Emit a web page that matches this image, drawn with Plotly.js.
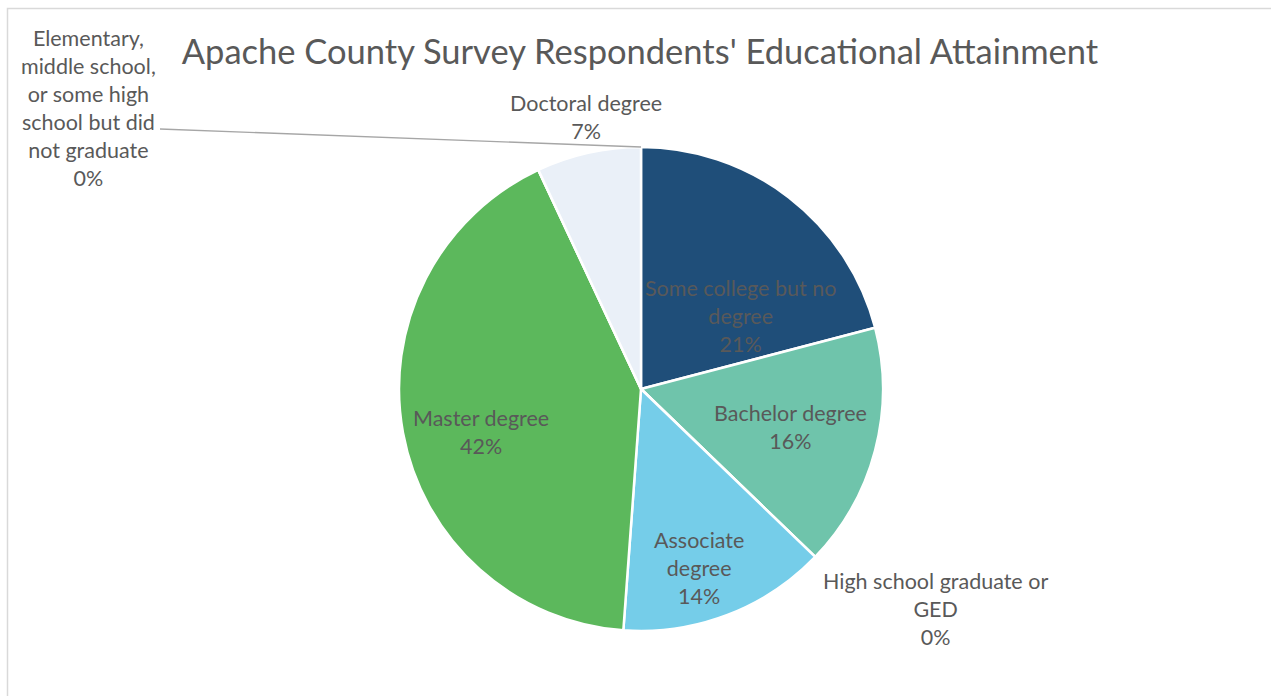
<!DOCTYPE html>
<html>
<head>
<meta charset="utf-8">
<script src="https://cdn.plot.ly/plotly-3.0.1.min.js"></script>
<style>html,body{margin:0;padding:0;background:#fff;}#chart{width:1271px;height:696px;}</style>
</head>
<body>
<div id="chart"></div>
<script>
// Data (counts read as shares of respondents, clockwise from top)
const categories = [
  "Some college but no degree",
  "Bachelor degree",
  "High school graduate or GED",
  "Associate degree",
  "Master degree",
  "Elementary, middle school, or some high school but did not graduate",
  "Doctoral degree"
];
const counts = [9, 7, 0, 6, 18, 0, 3];
// Display text for each label (line-wrapped as in the reference)
const labelText = [
  "Some college but no<br>degree",
  "Bachelor degree",
  "High school graduate or<br>GED",
  "Associate<br>degree",
  "Master degree",
  "Elementary,<br>middle school,<br>or some high<br>school but did<br>not graduate",
  "Doctoral degree"
];
const colors = ["#1f4e79", "#6fc4ab", "#a5a5a5", "#75cde9", "#5cb85c", "#cccccc", "#eaf0f8"];

// Label positions (pixels in the 1271x696 page)
const labelPos = [[740, 316], [790, 427], [935, 609], [699, 568], [481, 432], [88, 108], [586, 117]];

const W = 1271, H = 696;
const cx = 641, cy = 389, R = 242;
const total = counts.reduce((a, b) => a + b, 0);

const trace = {
  type: "pie",
  labels: categories,
  values: counts,
  sort: false,
  direction: "clockwise",
  rotation: 0,
  textinfo: "none",
  hoverinfo: "label+percent",
  marker: {colors: colors, line: {color: "#ffffff", width: 2.5}},
  domain: {x: [(cx - R) / W, (cx + R) / W], y: [(H - cy - R) / H, (H - cy + R) / H]},
  showlegend: false
};

const annotations = categories.map((c, i) => ({
  xref: "paper", yref: "paper",
  x: labelPos[i][0] / W, y: 1 - labelPos[i][1] / H,
  xanchor: "center", yanchor: "middle",
  text: labelText[i] + "<br>" + Math.round(100 * counts[i] / total) + "%",
  showarrow: false,
  align: "center",
  font: {family: "Lato, 'Open Sans', sans-serif", size: 21.5, color: "#595959"}
}));

const layout = {
  width: W, height: H,
  margin: {l: 0, r: 0, t: 0, b: 0},
  paper_bgcolor: "#ffffff",
  title: {
    text: "Apache County Survey Respondents' Educational Attainment",
    font: {family: "Lato, 'Open Sans', sans-serif", size: 34.5, color: "#595959"},
    x: 640 / W, xanchor: "center", y: 1 - 52 / H, yanchor: "middle"
  },
  annotations: annotations,
  shapes: [
    {type: "rect", xref: "paper", yref: "paper", x0: 7.5 / W, y0: -0.05, x1: 1.05, y1: 1 - 8.5 / H,
     line: {color: "#d9d9d9", width: 1.5}, fillcolor: "rgba(0,0,0,0)"},
    {type: "line", xref: "paper", yref: "paper", x0: 160 / W, y0: 1 - 129 / H, x1: cx / W, y1: 1 - (cy - R) / H,
     line: {color: "#a6a6a6", width: 1.3}}
  ]
};

Plotly.newPlot("chart", [trace], layout, {displayModeBar: false, staticPlot: true});
</script>
</body>
</html>
